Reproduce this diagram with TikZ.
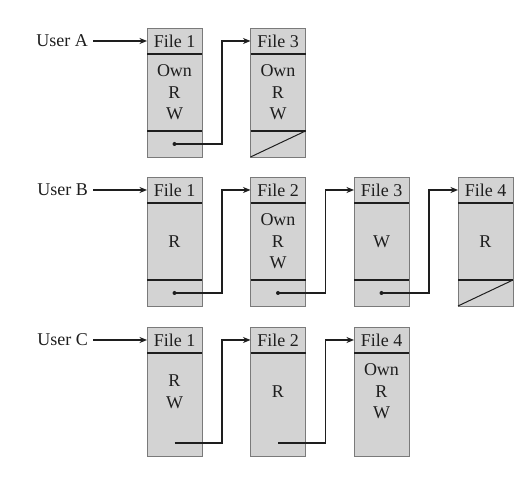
\documentclass[tikz,border=0pt]{standalone}
\usepackage{fontspec}
\setmainfont{Liberation Serif}
\usetikzlibrary{arrows.meta}
\definecolor{boxfill}{HTML}{D3D3D3}
\definecolor{boxline}{HTML}{7A7A7A}
\definecolor{ink}{HTML}{1E1E1E}
\tikzset{
  cell/.style={draw=boxline, fill=boxfill, line width=0.9pt, minimum width=55pt,
    inner sep=0pt, outer sep=0pt, text=ink, font=\fontsize{18}{21.5}\selectfont, align=center},
  head/.style={cell, minimum height=26pt, anchor=north},
  body/.style={cell, minimum height=77pt, anchor=north},
  ptrcell/.style={cell, minimum height=26pt, anchor=north},
  tallbody/.style={cell, minimum height=103pt, anchor=north},
  bodytext/.style={inner sep=0pt, text=ink, font=\fontsize{18}{21.5}\selectfont, align=center},
  sep/.style={draw=ink, line width=1.3pt},
  nullp/.style={draw=ink, line width=1pt},
  link/.style={draw=ink, line width=1.2pt, -{Stealth[length=7.5pt,width=6pt]}},
  user/.style={text=ink, font=\fontsize{18}{21}\selectfont, anchor=east, inner sep=0pt},
}
\begin{document}
\begin{tikzpicture}[x=1pt,y=1pt]
\useasboundingbox[fill=white] (0,0) rectangle (531,490);

% ---------- Row A ----------
\node[user] (UA) at (88,449) {User A};
\node[head] (A1) at (174.5,462) {File 1};
\node[body] (A1b) at (A1.south) {Own\\R\\W};
\node[ptrcell] (A1p) at (A1b.south) {};
\node[head] (A3) at (278,462) {File 3};
\node[body] (A3b) at (A3.south) {Own\\R\\W};
\node[ptrcell] (A3p) at (A3b.south) {};
\foreach \n in {A1,A3}{
  \draw[sep] (\n.south west) -- (\n.south east);
  \draw[sep] (\n p.north west) -- (\n p.north east);
}
\draw[nullp] (A3p.south west) -- (A3p.north east);
\draw[link, shorten <=5pt] (UA.east) -- (A1.west);
\fill[ink] (A1p.center) circle (2pt);
\draw[link] (A1p.center) -- ([xshift=20pt]A1p.east) |- (A3.west);

% ---------- Row B ----------
\node[user] (UB) at (88,300) {User B};
\node[head] (B1) at (174.5,313) {File 1};
\node[body] (B1b) at (B1.south) {R};
\node[ptrcell] (B1p) at (B1b.south) {};
\node[head] (B2) at (278,313) {File 2};
\node[body] (B2b) at (B2.south) {Own\\R\\W};
\node[ptrcell] (B2p) at (B2b.south) {};
\node[head] (B3) at (381.5,313) {File 3};
\node[body] (B3b) at (B3.south) {W};
\node[ptrcell] (B3p) at (B3b.south) {};
\node[head] (B4) at (485.5,313) {File 4};
\node[body] (B4b) at (B4.south) {R};
\node[ptrcell] (B4p) at (B4b.south) {};
\foreach \n in {B1,B2,B3,B4}{
  \draw[sep] (\n.south west) -- (\n.south east);
  \draw[sep] (\n p.north west) -- (\n p.north east);
}
\draw[nullp] (B4p.south west) -- (B4p.north east);
\draw[link, shorten <=5pt] (UB.east) -- (B1.west);
\foreach \a/\b in {B1/B2,B2/B3,B3/B4}{
  \fill[ink] (\a p.center) circle (2pt);
  \draw[link] (\a p.center) -- ([xshift=20pt]\a p.east) |- (\b.west);
}

% ---------- Row C ----------
\node[user] (UC) at (88,150) {User C};
\node[head] (C1) at (174.5,163) {File 1};
\node[tallbody] (C1b) at (C1.south) {};
\node[head] (C2) at (278,163) {File 2};
\node[tallbody] (C2b) at (C2.south) {};
\node[head] (C4) at (381.5,163) {File 4};
\node[tallbody] (C4b) at (C4.south) {};
\node[bodytext] (C1t) at ([yshift=-38.5pt]C1b.north) {R\\W};
\node[bodytext] (C2t) at ([yshift=-38.5pt]C2b.north) {R};
\node[bodytext] (C4t) at ([yshift=-38.5pt]C4b.north) {Own\\R\\W};
\foreach \n in {C1,C2,C4}{
  \draw[sep] (\n.south west) -- (\n.south east);
}
\coordinate (C1p) at ([yshift=13pt]C1b.south);
\coordinate (C2p) at ([yshift=13pt]C2b.south);
\draw[link, shorten <=5pt] (UC.east) -- (C1.west);
\draw[link] (C1p) -- ([shift={(20pt,13pt)}]C1b.south east) |- (C2.west);
\draw[link] (C2p) -- ([shift={(20pt,13pt)}]C2b.south east) |- (C4.west);
\end{tikzpicture}
\end{document}
